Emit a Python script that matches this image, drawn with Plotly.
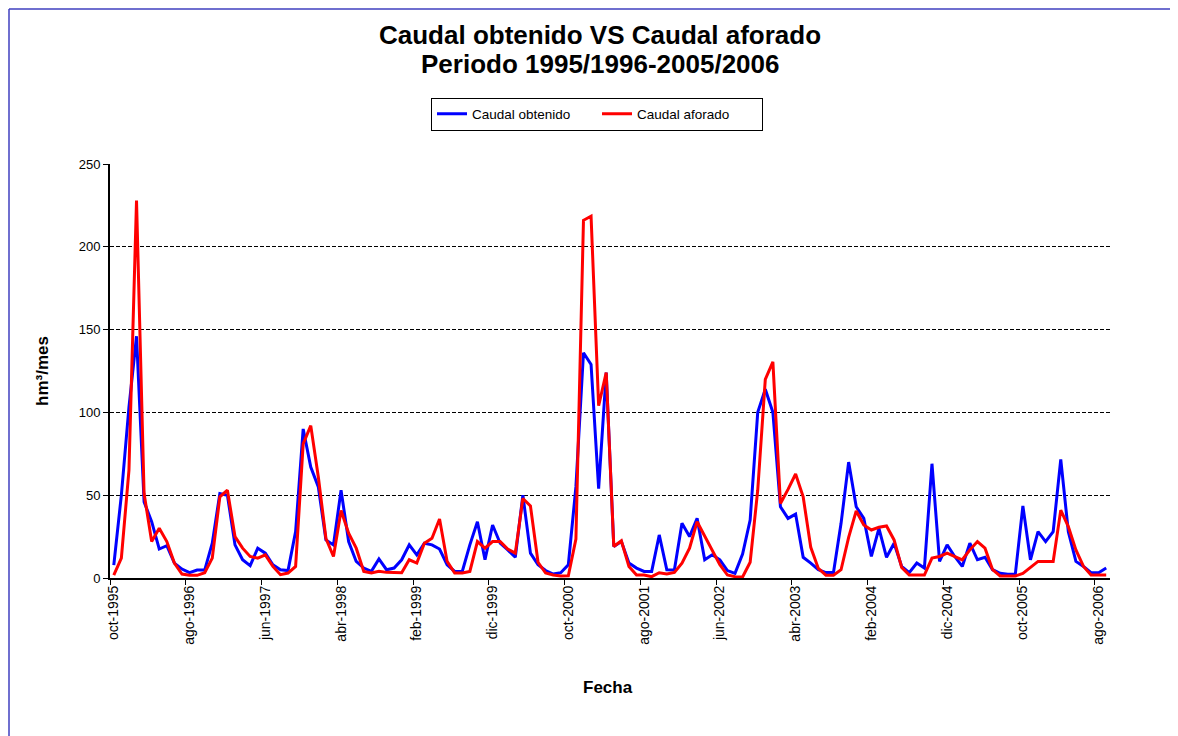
import plotly.graph_objects as go

# Spanish month abbreviations and period (oct-1995 .. sep-2006)
month_abbr = ["ene", "feb", "mar", "abr", "may", "jun", "jul", "ago", "sep", "oct", "nov", "dic"]
start_year, start_month, n_months = 1995, 10, 132
fechas = []
for k in range(n_months):
    m = (start_month - 1 + k) % 12
    y = start_year + (start_month - 1 + k) // 12
    fechas.append(f"{month_abbr[m]}-{y}")

caudal_obtenido = [
    7.8, 50, 103, 146, 46, 34, 17.5, 19.5, 9, 5.4, 3.2, 4.8,
    4.8, 21, 51, 50, 20, 11, 7.5, 18, 15, 8, 5, 4.5,
    28, 90, 67, 55, 23, 20, 53, 22, 10, 6, 4, 11.5,
    5, 6, 11, 20, 14, 21, 20, 17.5, 8, 4, 4, 20,
    34, 11, 32, 21, 17, 12.5, 50, 15, 8, 4.5, 2.4, 3.2,
    8, 55, 136, 129, 54, 124, 19, 22, 9, 6, 4, 4,
    26, 5, 4.8, 33, 25, 36, 11, 14, 11, 4.5, 2.8, 14.5,
    35, 100, 114, 100, 43, 36, 38.6, 12.5, 9, 5, 3.3, 3.3,
    33, 70, 43, 36, 13, 30, 12.5, 21, 7, 3.2, 9, 6,
    69, 10, 20, 13, 7, 21, 11, 12.5, 5, 2.8, 2.2, 2.2,
    43.5, 11, 28, 22, 28, 71.6, 28, 10, 7, 3.2, 3.2, 6,
]

caudal_aforado = [
    1.8, 12, 65, 228, 51, 22, 30, 22, 9, 2.4, 1.6, 1.6,
    3.2, 12, 49, 53, 25, 18, 13, 12, 14, 7, 2, 3,
    7, 81, 92, 61, 24, 13, 40.7, 27, 18, 4, 3, 4,
    3.4, 3.2, 3.2, 11, 9, 21, 24, 35.6, 10, 3, 3, 4,
    22, 18, 22, 22, 17.5, 15, 48, 43.5, 9.5, 3, 1.8, 1.2,
    1.4, 23.5, 216, 218.5, 104, 124, 19, 22.5, 7, 1.8, 1.8, 0.8,
    3.2, 2.4, 3.4, 9, 18, 34, 25, 16, 8, 1.8, 0.8, 0.6,
    9.5, 53, 120, 130.5, 45, 53.5, 62.8, 49, 18.5, 5.8, 1.7, 1.7,
    5, 24.5, 40.5, 32, 29, 30.6, 31.4, 23, 6.4, 1.8, 1.8, 1.8,
    12, 13, 15, 13, 11, 17, 22, 18, 5, 1.2, 1.2, 1.2,
    2.8, 6.4, 10, 10, 10, 41, 31, 17, 7, 1.8, 1.8, 1.8,
]

y_ticks = [0, 50, 100, 150, 200, 250]
label_step = 10
title_line1 = "Caudal obtenido VS Caudal aforado"
title_line2 = "Periodo 1995/1996-2005/2006"

idx = list(range(len(fechas)))
FONT = "Arial, Liberation Sans, sans-serif"

# page has an 8px body margin: figure is drawn at (8, 8)
W, H = 1170, 728
L, T, PW, PH = 102, 156, 1000, 414

fig = go.Figure()
fig.add_trace(go.Scatter(x=idx, y=caudal_obtenido, mode="lines", name="Caudal obtenido",
                         line=dict(color="#0000FF", width=3), customdata=fechas,
                         hovertemplate="%{customdata}: %{y}<extra></extra>"))
fig.add_trace(go.Scatter(x=idx, y=caudal_aforado, mode="lines", name="Caudal aforado",
                         line=dict(color="#FF0000", width=3), customdata=fechas,
                         hovertemplate="%{customdata}: %{y}<extra></extra>"))

fig.update_layout(
    width=W, height=H,
    margin=dict(l=L, r=W - L - PW, t=T, b=H - T - PH),
    paper_bgcolor="white", plot_bgcolor="white",
    font=dict(family=FONT, color="black", size=13),
    title=dict(text=f"<b>{title_line1}</b>",
               x=592 / W, xanchor="center", xref="container",
               y=1 - 27 / H, yanchor="middle", yref="container",
               font=dict(size=26, family=FONT, color="black")),
    showlegend=True,
    legend=dict(orientation="h", x=589 / W, xanchor="center", xref="container",
                y=1 - 106 / H, yanchor="middle", yref="container",
                bordercolor="black", borderwidth=1, bgcolor="white",
                font=dict(size=13.5, family=FONT), entrywidth=120),
    xaxis=dict(
        range=[-0.5, len(fechas) - 0.5],
        tickmode="array",
        tickvals=idx[::label_step],
        ticktext=fechas[::label_step],
        tickangle=-90,
        ticks="",
        showgrid=False, zeroline=False,
        showline=True, linecolor="black", linewidth=2,
        tickfont=dict(size=14, family=FONT),
        minor=dict(tickmode="array", tickvals=[v - 0.5 for v in idx[::label_step]],
                   ticks="outside", ticklen=5, tickcolor="black", tickwidth=1, showgrid=False),
    ),
    yaxis=dict(
        range=[0, 250],
        tickmode="array", tickvals=y_ticks,
        ticks="outside", ticklen=5, tickcolor="black",
        showgrid=True, gridcolor="black", gridwidth=1, griddash="4px,2px",
        zeroline=False,
        showline=True, linecolor="black", linewidth=2,
        tickfont=dict(size=13, family=FONT),
    ),
    annotations=[
        dict(text=f"<b>{title_line2}</b>", xref="paper", yref="paper",
             x=(592 - L) / PW, y=(T + PH - 56) / PH,
             xanchor="center", yanchor="middle", showarrow=False,
             font=dict(size=26, family=FONT, color="black")),
        dict(text="<b>hm³/mes</b>", xref="paper", yref="paper", x=-68 / PW, y=0.5,
             xanchor="center", yanchor="middle", textangle=-90, showarrow=False,
             font=dict(size=17, family=FONT)),
        dict(text="<b>Fecha</b>", xref="paper", yref="paper", x=0.498, y=-109 / PH,
             xanchor="center", yanchor="middle", showarrow=False,
             font=dict(size=17, family=FONT)),
    ],
    shapes=[
        dict(type="line", xref="paper", yref="paper", x0=(1 - L) / PW, x1=(1165 - L) / PW,
             y0=(T + PH - 1) / PH, y1=(T + PH - 1) / PH, line=dict(color="#3F3FBF", width=1.5)),
        dict(type="line", xref="paper", yref="paper", x0=(1 - L) / PW, x1=(1 - L) / PW,
             y0=(T + PH - 1) / PH, y1=-(H - T - PH) / PH, line=dict(color="#3F3FBF", width=1.5)),
    ],
)

fig.write_html("out.html")
